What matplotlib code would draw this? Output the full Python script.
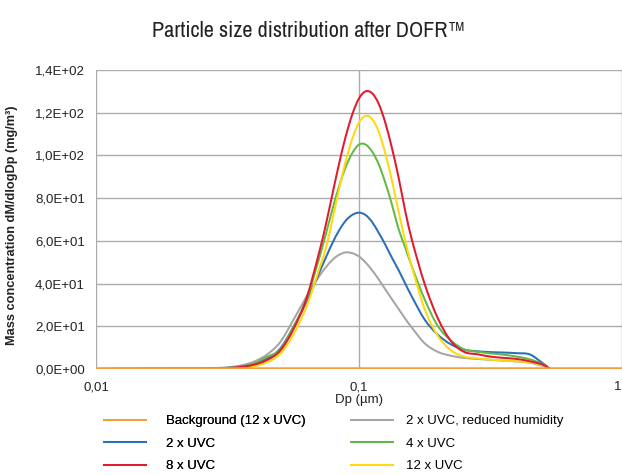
import matplotlib
matplotlib.use("Agg")
import numpy as np
import matplotlib.pyplot as plt
from matplotlib.lines import Line2D
from matplotlib.path import Path
from matplotlib.patches import PathPatch
import matplotlib.transforms as mtransforms

# ---------------- data ----------------
dp_um = [0.0100, 0.0112, 0.0126, 0.0141, 0.0158, 0.0178, 0.0200, 0.0224, 0.0251, 0.0282,
         0.0316, 0.0355, 0.0398, 0.0447, 0.0501, 0.0562, 0.0631, 0.0708, 0.0750, 0.0794,
         0.0841, 0.0891, 0.0944, 0.1000, 0.1059, 0.1122, 0.1189, 0.1259, 0.1334, 0.1413,
         0.1496, 0.1585, 0.1778, 0.1995, 0.2239, 0.2512, 0.2818, 0.3162, 0.3548, 0.3981,
         0.4467, 0.5012, 0.5370, 0.6000, 1.0000]

background_12uvc = [0.3, 0.3, 0.3, 0.3, 0.3, 0.3, 0.3, 0.3, 0.3, 0.3,
                    0.3, 0.3, 0.3, 0.3, 0.3, 0.3, 0.3, 0.3, 0.3, 0.3,
                    0.3, 0.3, 0.3, 0.3, 0.3, 0.3, 0.3, 0.3, 0.3, 0.3,
                    0.3, 0.3, 0.3, 0.3, 0.3, 0.3, 0.3, 0.3, 0.3, 0.3,
                    0.3, 0.3, 0.3, 0.3, 0.3]

uvc2_reduced_humidity = [0.0, 0.05, 0.08, 0.1, 0.12, 0.15, 0.18, 0.2, 0.25, 0.4,
                         0.8, 1.6, 3.4, 6.8, 12.5, 22.8, 33.8, 43.7, 47.8, 51.2,
                         53.5, 54.6, 54.2, 52.7, 49.9, 46.2, 41.9, 37.3, 32.7, 28.2,
                         23.7, 19.5, 12.0, 8.0, 6.2, 5.2, 4.7, 4.3, 3.9, 3.5,
                         2.9, 1.4, 0.0, 0.0, 0.0]

uvc2 = [0.0, 0.04, 0.07, 0.09, 0.11, 0.13, 0.15, 0.17, 0.2, 0.3,
        0.5, 1.1, 2.3, 4.9, 9.5, 19.5, 31.3, 45.5, 52.5, 59.2,
        65.0, 69.5, 72.2, 73.2, 72.1, 68.8, 63.7, 58.2, 52.1, 46.4,
        40.2, 34.1, 23.1, 16.0, 11.5, 9.0, 8.3, 7.9, 7.7, 7.4,
        6.8, 2.6, 0.0, 0.0, 0.0]

uvc4 = [0.0, 0.05, 0.08, 0.1, 0.12, 0.15, 0.18, 0.2, 0.22, 0.3,
        0.5, 1.1, 2.5, 5.7, 9.0, 19.5, 32.5, 52.4, 63.7, 75.1,
        85.8, 94.7, 101.2, 105.1, 105.1, 101.8, 95.8, 87.2, 77.0, 65.7,
        57.2, 48.3, 32.5, 20.1, 13.3, 9.2, 8.1, 7.3, 6.7, 5.8,
        4.5, 2.2, 0.0, 0.0, 0.0]

uvc8 = [0.0, 0.05, 0.08, 0.1, 0.12, 0.14, 0.16, 0.18, 0.2, 0.25,
        0.45, 0.94, 2.0, 4.2, 8.5, 18.4, 33.0, 55.3, 68.2, 82.4,
        96.4, 109.1, 119.4, 126.7, 130.0, 129.1, 124.1, 115.3, 103.5, 89.9,
        74.5, 61.0, 39.7, 23.7, 13.0, 8.0, 6.9, 5.8, 5.2, 4.7,
        3.6, 2.0, 0.0, 0.0, 0.0]

uvc12 = [0.0, 0.03, 0.05, 0.07, 0.09, 0.1, 0.12, 0.14, 0.17, 0.2,
         0.25, 0.5, 1.24, 3.1, 7.0, 16.0, 29.0, 47.3, 57.0, 70.5,
         84.5, 97.5, 108.0, 115.4, 118.5, 117.0, 111.0, 101.0, 88.2, 74.0,
         60.4, 48.3, 28.0, 15.5, 8.7, 5.8, 5.0, 4.4, 3.9, 3.6,
         3.1, 1.8, 0.0, 0.0, 0.0]

labels = ["Background (12 x UVC)", "2 x UVC", "8 x UVC",
          "2 x UVC, reduced humidity", "4 x UVC", "12 x UVC"]

x_ticks = [0.01, 0.1, 1]
x_tick_labels = ["0,01", "0,1", "1"]
y_ticks = [0, 20, 40, 60, 80, 100, 120, 140]
y_tick_labels = ["0,0E+00", "2,0E+01", "4,0E+01", "6,0E+01", "8,0E+01",
                 "1,0E+02", "1,2E+02", "1,4E+02"]

# ---------------- style ----------------
plt.rcParams['font.family'] = ['Liberation Sans', 'DejaVu Sans']
c_orange = '#F3A03C'
c_gray = '#A5A5A5'
c_blue = '#2C6FB8'
c_green = '#62B947'
c_red = '#E3192E'
c_yellow = '#FFD90F'
grid_c = '#ABABAB'
txt_c = '#222222'

W, H = 622, 475
fig = plt.figure(figsize=(W / 100, H / 100), dpi=100)
ax = fig.add_axes([96 / W, 1 - 369 / H, (622 - 96) / W, (369 - 70) / H])

ax.set_xscale('log')
ax.set_xlim(0.01, 1)
ax.set_ylim(0, 140)


def smooth_path(x, y):
    """Smoothed line (like a spreadsheet 'smoothed line') through the data points."""
    lx = np.log10(np.asarray(x, float))
    y = np.asarray(y, float)
    n = len(lx)
    s = np.zeros(n)
    for i in range(n):
        if i == 0:
            s[i] = (y[1] - y[0]) / (lx[1] - lx[0])
        elif i == n - 1:
            s[i] = (y[-1] - y[-2]) / (lx[-1] - lx[-2])
        else:
            s[i] = (y[i + 1] - y[i - 1]) / (lx[i + 1] - lx[i - 1])
    verts = [(10 ** lx[0], y[0])]
    codes = [Path.MOVETO]
    for i in range(n - 1):
        h = lx[i + 1] - lx[i]
        c1 = (10 ** (lx[i] + h / 3), max(0.0, y[i] + s[i] * h / 3))
        c2 = (10 ** (lx[i + 1] - h / 3), max(0.0, y[i + 1] - s[i + 1] * h / 3))
        verts += [c1, c2, (10 ** lx[i + 1], y[i + 1])]
        codes += [Path.CURVE4] * 3
    return Path(verts, codes)


lw = 1.45
for series, col in [(uvc2_reduced_humidity, c_gray), (uvc2, c_blue), (uvc4, c_green),
                    (uvc12, c_yellow), (uvc8, c_red)]:
    ax.add_patch(PathPatch(smooth_path(dp_um, series), fill=False, edgecolor=col,
                           lw=lw, zorder=3, capstyle='round', joinstyle='round'))
ax.plot(dp_um, background_12uvc, color=c_orange, lw=1.8, zorder=4)

ax.set_yticks(y_ticks)
ax.set_yticklabels(y_tick_labels)
ax.set_xticks(x_ticks)
ax.set_xticklabels(x_tick_labels)
ax.xaxis.set_minor_locator(matplotlib.ticker.NullLocator())
ax.tick_params(axis='both', length=0, labelsize=9.5, colors=txt_c)
ax.tick_params(axis='y', pad=8)
ax.tick_params(axis='x', pad=9)
# keep the "1" label inside the picture
lab1 = ax.get_xticklabels()[-1]
lab1.set_transform(lab1.get_transform() +
                   mtransforms.ScaledTranslation(-4 / 100, 0, fig.dpi_scale_trans))

ax.grid(True, axis='y', color=grid_c, lw=1.0, zorder=1)
ax.grid(True, axis='x', which='major', color=grid_c, lw=1.0, zorder=1)
for s in ax.spines.values():
    s.set_visible(False)

ax.set_xlabel("Dp (µm)", fontsize=9.5, labelpad=0, color=txt_c)
fig.text(12 / W, 1 - 225 / H, "Mass concentration dM/dlogDp (mg/m³)",
         rotation=90, ha='center', va='center', fontsize=9.2,
         fontweight='bold', color=txt_c)

fig.text(309 / W, 1 - 31 / H, "Particle size distribution after DOFR™",
         ha='center', va='center', fontsize=16, fontweight='semibold',
         family=['Archivo Narrow', 'Asap Condensed', 'DejaVu Sans'], color=txt_c)

# legend: two columns
def handles(cols):
    return [Line2D([], [], color=c, lw=lw) for c in cols]

leg1 = fig.legend(handles([c_orange, c_blue, c_red]), labels[:3],
                  loc='upper left', bbox_to_anchor=(104 / W, 1 - 415 / H),
                  frameon=False, fontsize=9.5, handlelength=3.2,
                  handletextpad=1.5, labelspacing=0.78, borderpad=0,
                  borderaxespad=0)
fig.add_artist(leg1)
leg2 = fig.legend(handles([c_gray, c_green, c_yellow]), labels[3:],
                  loc='upper left', bbox_to_anchor=(351 / W, 1 - 415 / H),
                  frameon=False, fontsize=9.5, handlelength=3.2,
                  handletextpad=1.0, labelspacing=0.78, borderpad=0,
                  borderaxespad=0)

fig.savefig("out.png", dpi=100)
